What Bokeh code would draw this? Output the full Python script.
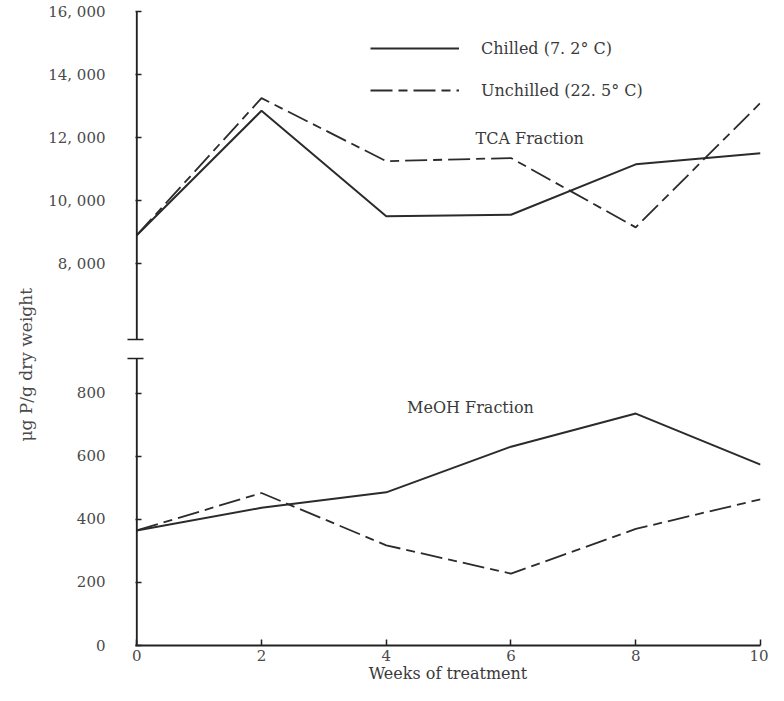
from bokeh.plotting import figure
from bokeh.models import Range1d, FixedTicker, Label, Arrow, Legend, LegendItem, Title
from bokeh.embed import file_html
from bokeh.resources import INLINE

# ---- data ----
weeks = [0, 2, 4, 6, 8, 10]
tca_chilled = [8900, 12850, 9500, 9550, 11150, 11500]
tca_unchilled = [8900, 13250, 11250, 11350, 9150, 13100]
meoh_chilled = [365, 437, 486, 631, 736, 574]
meoh_unchilled = [365, 484, 318, 228, 370, 464]

week_ticks = [0, 2, 4, 6, 8, 10]
meoh_ticks = [0, 200, 400, 600, 800]
tca_ticks = [8000, 10000, 12000, 14000, 16000]
tca_tick_labels = ["8, 000", "10, 000", "12, 000", "14, 000", "16, 000"]

legend_labels = ["Chilled (7. 2\u00b0 C)", "Unchilled (22. 5\u00b0 C)"]

FONT = "DejaVu Serif"
INK = "#2b2b2b"
TXT = "#4a4a4a"

W, H = 768, 685
meoh_lo, meoh_hi = 0, 2012
tca_lo, tca_hi = -4120, 16000
x_lo, x_hi = -0.02, 10


def to_meoh(v):
    return int(round(meoh_lo + (v - tca_lo) * (meoh_hi - meoh_lo) / (tca_hi - tca_lo)))


p = figure(width=W, height=H, output_backend="svg", toolbar_location=None,
           title=None, x_range=Range1d(x_lo, x_hi), y_range=Range1d(meoh_lo, meoh_hi),
           min_border_left=135, min_border_right=8, min_border_top=11,
           min_border_bottom=39)
p.extra_y_ranges = {"tca": Range1d(tca_lo, tca_hi)}
p.grid.visible = False
p.outline_line_color = None
p.background_fill_color = "white"
p.border_fill_color = "white"

# lines
l_tc = p.line(weeks, tca_chilled, y_range_name="tca", line_color=INK, line_width=2)
l_tu = p.line(weeks, tca_unchilled, y_range_name="tca", line_color=INK,
              line_width=1.8, line_dash="22 6 9 6")
p.line(weeks, meoh_chilled, line_color=INK, line_width=2)
p.line(weeks, meoh_unchilled, line_color=INK, line_width=1.8, line_dash="22 6 9 6")

# x axis
xa = p.xaxis[0]
xa.ticker = FixedTicker(ticks=week_ticks)
xa.axis_line_width = 2
xa.axis_line_color = "#222222"
xa.major_tick_in = 6
xa.major_tick_out = 0
xa.major_tick_line_color = "#222222"
xa.major_tick_line_width = 1.5
xa.minor_tick_line_color = None
xa.major_label_standoff = 4
xa.major_label_text_font = FONT
xa.major_label_text_font_size = "15px"
xa.major_label_text_color = TXT
xa.axis_label = "Weeks of treatment"
xa.axis_label_text_font = FONT
xa.axis_label_text_font_size = "16px"
xa.axis_label_text_font_style = "normal"
xa.axis_label_text_color = "#3a3a3a"
xa.axis_label_standoff = 0

# y axis (broken): break marks drawn as minor ticks crossing the axis
top_break = 970
bot_break = 912
ya = p.yaxis[0]
ya.ticker = FixedTicker(ticks=meoh_ticks + [to_meoh(v) for v in tca_ticks],
                        minor_ticks=[top_break, bot_break])
ya.major_label_overrides = {to_meoh(v): lab for v, lab in zip(tca_ticks, tca_tick_labels)}
ya.axis_line_color = None
ya.major_tick_in = 6
ya.major_tick_out = 0
ya.major_tick_line_color = "#222222"
ya.major_tick_line_width = 1.5
ya.minor_tick_in = 8
ya.minor_tick_out = 8
ya.minor_tick_line_color = "#222222"
ya.minor_tick_line_width = 1.5
ya.major_label_standoff = 22
ya.major_label_text_font = FONT
ya.major_label_text_font_size = "15px"
ya.major_label_text_color = TXT

# axis line pieces
for (y0, y1) in [(meoh_hi, top_break), (bot_break, 0)]:
    p.add_layout(Arrow(end=None, x_start=0, y_start=y0, x_end=0, y_end=y1,
                       line_color="#222222", line_width=2))

# y axis title (shifted down like the reference)
p.add_layout(Title(text="\u03bcg P/g dry weight", align="left", offset=204, standoff=20,
                   text_font=FONT, text_font_size="17px", text_font_style="normal",
                   text_color="#4a4a4a"), "left")

# legend
legend = Legend(items=[LegendItem(label=legend_labels[0], renderers=[l_tc]),
                       LegendItem(label=legend_labels[1], renderers=[l_tu])],
                location=(235, 545), orientation="vertical",
                glyph_width=89, glyph_height=20, label_height=20, spacing=22,
                label_standoff=22, padding=0, margin=0,
                border_line_color=None, background_fill_alpha=0,
                label_text_font=FONT, label_text_font_size="16px",
                label_text_color="#3a3a3a")
p.add_layout(legend)

# annotations
p.add_layout(Label(x=6.30, y=11982, y_range_name="tca", text="TCA Fraction",
                   text_align="center", text_baseline="middle", text_font=FONT,
                   text_font_size="16px", text_color="#3a3a3a"))
p.add_layout(Label(x=5.35, y=756, text="MeOH Fraction",
                   text_align="center", text_baseline="middle", text_font=FONT,
                   text_font_size="16px", text_color="#3a3a3a"))

open("out.html", "w").write(file_html(p, INLINE))
